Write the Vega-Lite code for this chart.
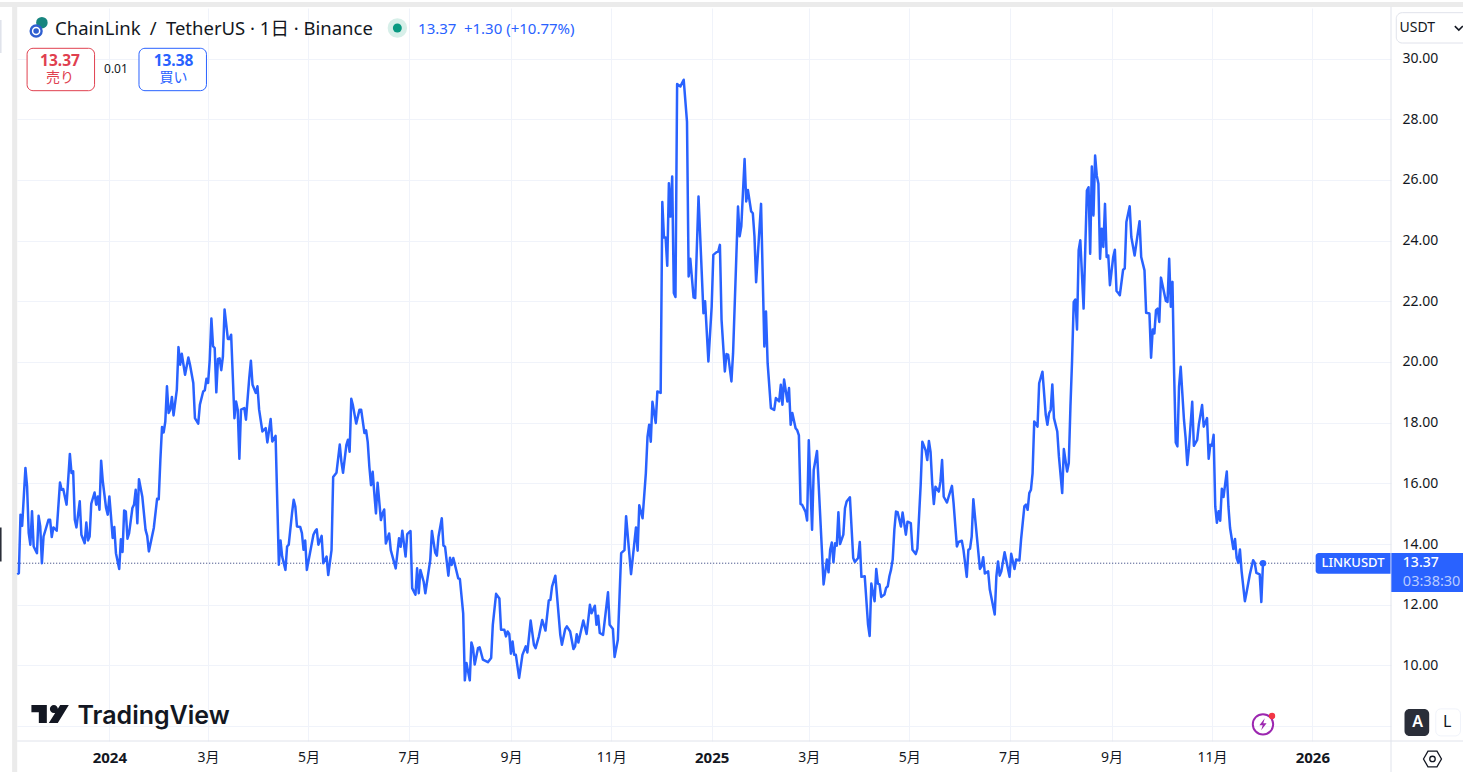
{
"$schema":"https://vega.github.io/schema/vega-lite/v6.json",
"width":1374,"height":733,
"autosize":{"type":"none"},
"padding":{"left":17,"top":8,"right":72,"bottom":31},
"background":"white",
"config":{"view":{"stroke":null},"font":"Noto Sans, Noto Sans CJK JP"},
"encoding":{
"x":{"field":"d","type":"temporal","title":null,
"scale":{"domain":[{"year":2023,"month":11,"date":5,"hours":21},{"year":2026,"month":2,"date":17,"hours":19}],"nice":false},
"axis":{"orient":"bottom","domain":false,"ticks":false,"grid":true,"gridColor":"#f0f3fa","tickCount":{"interval":"month","step":2},"labelExpr":"month(datum.value)==0 ? ''+year(datum.value) : (month(datum.value)+1)+'月'","labelFontSize":{"condition":{"test":"month(datum.value)==0","value":15},"value":14},"labelColor":"#131722","labelPadding":9,"labelOverlap":false,"labelFlush":false,"labelFontWeight":{"condition":{"test":"month(datum.value)==0","value":"bold"},"value":"normal"}}},
"y":{"field":"p","type":"quantitative","title":null,
"scale":{"domain":[7.512,31.664],"nice":false,"zero":false},
"axis":{"orient":"right","domain":false,"ticks":false,"grid":true,"gridColor":"#f0f3fa","values":[8,10,12,14,16,18,20,22,24,26,28,30],"format":".2f","labelExpr":"datum.value==8?'':datum.label","labelFontSize":14,"labelColor":"#131722","labelPadding":11}}
},
"layer":[
{"data":{"values":[{"d":"2023-10-20","d2":"2026-04-10","p":31.86,"p2":31.70},{"d":"2023-11-02T22:00","d2":"2023-11-06","p":31.86,"p2":6.4}]},"mark":{"type":"rect","color":"#ebebeb"},"encoding":{"x2":{"field":"d2"},"y2":{"field":"p2"}}},
{"data":{"values":[{"d":"2023-10-20","d2":"2023-10-27T12:00","p":31.27,"p2":30.18}]},"mark":{"type":"rect","color":"#e0e3eb"},"encoding":{"x2":{"field":"d2"},"y2":{"field":"p2"}}},
{"data":{"values":[{"d":"2023-10-20","d2":"2023-10-27T12:00","p":14.55,"p2":13.43}]},"mark":{"type":"rect","color":"#2a2e39"},"encoding":{"x2":{"field":"d2"},"y2":{"field":"p2"}}},
{"data":{"values":[{"d":"2023-11-06","d2":"2026-04-10","p":7.512,"p2":7.512},{"d":"2026-02-17T19:00","d2":"2026-02-17T19:00","p":31.7,"p2":6.4}]},"mark":{"type":"rule","color":"#e0e3eb","strokeWidth":1},"encoding":{"x2":{"field":"d2"},"y2":{"field":"p2"}}},
{"data":{"values":[{"d":"2023-11-06","d2":"2026-01-03","p":13.37}]},"mark":{"type":"rule","color":"#1f2f70","strokeWidth":1,"strokeDash":[1,2]},"encoding":{"x2":{"field":"d2"}}},
{"data":{"values":[
{"d":"2023-11-06","p":13.01},{"d":"2023-11-07","p":13.04},{"d":"2023-11-08","p":14.97},{"d":"2023-11-09","p":14.6},{"d":"2023-11-11","p":16.51},{"d":"2023-11-12","p":15.9},{"d":"2023-11-13","p":14.36},{"d":"2023-11-14","p":13.98},{"d":"2023-11-15","p":15.08},{"d":"2023-11-16","p":13.92},{"d":"2023-11-18","p":13.7},{"d":"2023-11-19","p":14.93},{"d":"2023-11-20","p":14.58},{"d":"2023-11-21","p":13.37},{"d":"2023-11-22","p":14.25},{"d":"2023-11-25","p":14.8},{"d":"2023-11-26","p":14.8},{"d":"2023-11-27","p":14.23},{"d":"2023-11-28","p":14.55},{"d":"2023-11-30","p":14.44},
{"d":"2023-12-02","p":16.03},{"d":"2023-12-03","p":15.79},{"d":"2023-12-04","p":15.81},{"d":"2023-12-06","p":15.3},{"d":"2023-12-08","p":16.97},{"d":"2023-12-09","p":16.34},{"d":"2023-12-10","p":16.4},{"d":"2023-12-11","p":14.8},{"d":"2023-12-12","p":14.55},{"d":"2023-12-14","p":15.41},{"d":"2023-12-15","p":14.31},{"d":"2023-12-17","p":14.03},{"d":"2023-12-18","p":14.71},{"d":"2023-12-19","p":14.12},{"d":"2023-12-20","p":14.25},{"d":"2023-12-21","p":15.33},{"d":"2023-12-23","p":15.7},{"d":"2023-12-24","p":15.3},{"d":"2023-12-25","p":15.57},{"d":"2023-12-26","p":15.13},{"d":"2023-12-27","p":16.75},{"d":"2023-12-28","p":16.07},{"d":"2023-12-30","p":15.19},{"d":"2023-12-31","p":14.97},
{"d":"2024-01-01","p":15.57},{"d":"2024-01-02","p":14.91},{"d":"2024-01-03","p":14.2},{"d":"2024-01-04","p":14.56},{"d":"2024-01-05","p":13.7},{"d":"2024-01-07","p":13.18},{"d":"2024-01-08","p":14.16},{"d":"2024-01-09","p":13.74},{"d":"2024-01-10","p":15.11},{"d":"2024-01-11","p":15.07},{"d":"2024-01-12","p":14.18},{"d":"2024-01-13","p":14.36},{"d":"2024-01-15","p":15.19},{"d":"2024-01-16","p":15.3},{"d":"2024-01-17","p":15.79},{"d":"2024-01-18","p":14.69},{"d":"2024-01-19","p":16.14},{"d":"2024-01-21","p":15.57},{"d":"2024-01-23","p":14.47},{"d":"2024-01-24","p":14.27},{"d":"2024-01-25","p":13.76},{"d":"2024-01-28","p":14.53},{"d":"2024-01-30","p":15.49},{"d":"2024-01-31","p":15.48},
{"d":"2024-02-01","p":16.78},{"d":"2024-02-02","p":17.86},{"d":"2024-02-03","p":17.68},{"d":"2024-02-04","p":18.04},{"d":"2024-02-05","p":19.2},{"d":"2024-02-06","p":18.32},{"d":"2024-02-07","p":18.43},{"d":"2024-02-08","p":18.85},{"d":"2024-02-09","p":18.24},{"d":"2024-02-11","p":19.09},{"d":"2024-02-12","p":20.49},{"d":"2024-02-13","p":19.91},{"d":"2024-02-14","p":20.27},{"d":"2024-02-16","p":19.58},{"d":"2024-02-18","p":20.15},{"d":"2024-02-19","p":19.91},{"d":"2024-02-21","p":19.31},{"d":"2024-02-22","p":18.15},{"d":"2024-02-24","p":17.97},{"d":"2024-02-25","p":18.59},{"d":"2024-02-27","p":19.03},{"d":"2024-02-28","p":19.07},{"d":"2024-02-29","p":19.45},
{"d":"2024-03-01","p":19.31},{"d":"2024-03-02","p":20.08},{"d":"2024-03-03","p":21.43},{"d":"2024-03-04","p":20.52},{"d":"2024-03-05","p":20.46},{"d":"2024-03-06","p":19.0},{"d":"2024-03-07","p":20.1},{"d":"2024-03-08","p":20.12},{"d":"2024-03-09","p":19.73},{"d":"2024-03-10","p":20.19},{"d":"2024-03-11","p":21.73},{"d":"2024-03-13","p":20.76},{"d":"2024-03-14","p":20.76},{"d":"2024-03-15","p":20.9},{"d":"2024-03-16","p":19.53},{"d":"2024-03-17","p":18.15},{"d":"2024-03-18","p":18.7},{"d":"2024-03-19","p":18.43},{"d":"2024-03-20","p":16.81},{"d":"2024-03-21","p":18.43},{"d":"2024-03-23","p":18.48},{"d":"2024-03-24","p":18.1},{"d":"2024-03-26","p":19.47},{"d":"2024-03-27","p":20.04},{"d":"2024-03-28","p":19.25},{"d":"2024-03-30","p":18.98},{"d":"2024-03-31","p":19.2},
{"d":"2024-04-01","p":18.43},{"d":"2024-04-03","p":17.71},{"d":"2024-04-05","p":17.82},{"d":"2024-04-06","p":17.35},{"d":"2024-04-08","p":18.12},{"d":"2024-04-09","p":17.38},{"d":"2024-04-11","p":17.57},{"d":"2024-04-12","p":15.46},{"d":"2024-04-13","p":13.32},{"d":"2024-04-14","p":14.12},{"d":"2024-04-15","p":13.59},{"d":"2024-04-17","p":13.15},{"d":"2024-04-18","p":13.92},{"d":"2024-04-19","p":13.98},{"d":"2024-04-21","p":15.02},{"d":"2024-04-22","p":15.46},{"d":"2024-04-23","p":15.24},{"d":"2024-04-24","p":14.58},{"d":"2024-04-26","p":14.56},{"d":"2024-04-27","p":14.36},{"d":"2024-04-28","p":13.81},{"d":"2024-04-29","p":14.12},{"d":"2024-04-30","p":13.15},
{"d":"2024-05-04","p":14.31},{"d":"2024-05-05","p":14.42},{"d":"2024-05-06","p":14.49},{"d":"2024-05-07","p":13.98},{"d":"2024-05-09","p":14.27},{"d":"2024-05-10","p":13.37},{"d":"2024-05-12","p":13.59},{"d":"2024-05-13","p":12.98},{"d":"2024-05-15","p":13.8},{"d":"2024-05-16","p":16.21},{"d":"2024-05-18","p":16.35},{"d":"2024-05-20","p":17.28},{"d":"2024-05-21","p":16.71},{"d":"2024-05-22","p":16.35},{"d":"2024-05-24","p":17.26},{"d":"2024-05-25","p":17.44},{"d":"2024-05-26","p":17.04},{"d":"2024-05-27","p":18.79},{"d":"2024-05-28","p":18.57},{"d":"2024-05-30","p":17.97},
{"d":"2024-06-01","p":18.43},{"d":"2024-06-02","p":18.43},{"d":"2024-06-04","p":17.66},{"d":"2024-06-05","p":17.75},{"d":"2024-06-06","p":17.36},{"d":"2024-06-07","p":16.54},{"d":"2024-06-08","p":15.94},{"d":"2024-06-09","p":16.38},{"d":"2024-06-10","p":15.67},{"d":"2024-06-11","p":15.01},{"d":"2024-06-12","p":16.02},{"d":"2024-06-14","p":14.79},{"d":"2024-06-15","p":15.01},{"d":"2024-06-16","p":15.14},{"d":"2024-06-17","p":14.02},{"d":"2024-06-19","p":14.35},{"d":"2024-06-20","p":13.8},{"d":"2024-06-23","p":13.2},{"d":"2024-06-25","p":14.19},{"d":"2024-06-26","p":13.91},{"d":"2024-06-27","p":14.44},{"d":"2024-06-29","p":13.59},{"d":"2024-06-30","p":14.33},
{"d":"2024-07-02","p":14.43},{"d":"2024-07-03","p":12.55},{"d":"2024-07-05","p":12.33},{"d":"2024-07-06","p":13.2},{"d":"2024-07-07","p":12.38},{"d":"2024-07-08","p":13.15},{"d":"2024-07-10","p":12.76},{"d":"2024-07-11","p":12.38},{"d":"2024-07-14","p":13.48},{"d":"2024-07-15","p":14.43},{"d":"2024-07-17","p":13.72},{"d":"2024-07-18","p":13.62},{"d":"2024-07-19","p":14.24},{"d":"2024-07-21","p":14.85},{"d":"2024-07-22","p":13.95},{"d":"2024-07-23","p":13.91},{"d":"2024-07-25","p":12.96},{"d":"2024-07-26","p":13.55},{"d":"2024-07-27","p":13.31},{"d":"2024-07-28","p":13.54},{"d":"2024-07-31","p":12.87},
{"d":"2024-08-01","p":12.85},{"d":"2024-08-03","p":11.72},{"d":"2024-08-04","p":9.51},{"d":"2024-08-05","p":10.08},{"d":"2024-08-07","p":9.51},{"d":"2024-08-08","p":10.76},{"d":"2024-08-09","p":10.57},{"d":"2024-08-10","p":10.03},{"d":"2024-08-12","p":10.57},{"d":"2024-08-13","p":10.6},{"d":"2024-08-15","p":10.19},{"d":"2024-08-18","p":10.11},{"d":"2024-08-20","p":10.25},{"d":"2024-08-21","p":11.34},{"d":"2024-08-23","p":12.36},{"d":"2024-08-25","p":12.21},{"d":"2024-08-26","p":11.18},{"d":"2024-08-28","p":11.18},{"d":"2024-08-29","p":10.96},{"d":"2024-08-30","p":11.12},{"d":"2024-08-31","p":11.04},
{"d":"2024-09-01","p":10.39},{"d":"2024-09-02","p":10.79},{"d":"2024-09-03","p":10.35},{"d":"2024-09-04","p":10.35},{"d":"2024-09-06","p":9.59},{"d":"2024-09-08","p":10.35},{"d":"2024-09-10","p":10.63},{"d":"2024-09-11","p":10.43},{"d":"2024-09-13","p":11.48},{"d":"2024-09-15","p":10.68},{"d":"2024-09-16","p":10.57},{"d":"2024-09-18","p":10.96},{"d":"2024-09-20","p":11.5},{"d":"2024-09-22","p":11.15},{"d":"2024-09-24","p":12.14},{"d":"2024-09-25","p":12.16},{"d":"2024-09-26","p":12.6},{"d":"2024-09-28","p":12.96},
{"d":"2024-10-01","p":11.01},{"d":"2024-10-02","p":10.68},{"d":"2024-10-04","p":11.2},{"d":"2024-10-05","p":11.29},{"d":"2024-10-07","p":11.12},{"d":"2024-10-09","p":10.54},{"d":"2024-10-10","p":10.63},{"d":"2024-10-11","p":11.03},{"d":"2024-10-12","p":10.76},{"d":"2024-10-15","p":11.48},{"d":"2024-10-17","p":11.04},{"d":"2024-10-18","p":11.5},{"d":"2024-10-19","p":12.0},{"d":"2024-10-20","p":11.72},{"d":"2024-10-22","p":11.97},{"d":"2024-10-23","p":11.34},{"d":"2024-10-24","p":11.64},{"d":"2024-10-25","p":11.07},{"d":"2024-10-27","p":11.01},{"d":"2024-10-29","p":11.94},{"d":"2024-10-30","p":12.41},{"d":"2024-10-31","p":11.34},
{"d":"2024-11-02","p":11.2},{"d":"2024-11-03","p":10.28},{"d":"2024-11-05","p":10.85},{"d":"2024-11-06","p":12.27},{"d":"2024-11-07","p":13.7},{"d":"2024-11-09","p":13.8},{"d":"2024-11-10","p":14.92},{"d":"2024-11-13","p":13.01},{"d":"2024-11-16","p":14.55},{"d":"2024-11-17","p":13.78},{"d":"2024-11-18","p":15.28},{"d":"2024-11-20","p":14.85},{"d":"2024-11-22","p":16.34},{"d":"2024-11-23","p":17.53},{"d":"2024-11-24","p":17.93},{"d":"2024-11-25","p":17.37},{"d":"2024-11-26","p":18.69},{"d":"2024-11-28","p":17.99},{"d":"2024-11-29","p":19.03},
{"d":"2024-12-01","p":18.98},{"d":"2024-12-02","p":25.27},{"d":"2024-12-03","p":24.1},{"d":"2024-12-04","p":24.1},{"d":"2024-12-05","p":23.17},{"d":"2024-12-06","p":25.89},{"d":"2024-12-07","p":24.79},{"d":"2024-12-08","p":26.11},{"d":"2024-12-09","p":22.27},{"d":"2024-12-10","p":22.14},{"d":"2024-12-11","p":29.16},{"d":"2024-12-13","p":29.08},{"d":"2024-12-15","p":29.3},{"d":"2024-12-17","p":27.92},{"d":"2024-12-18","p":22.82},{"d":"2024-12-19","p":23.4},{"d":"2024-12-21","p":22.13},{"d":"2024-12-22","p":22.11},{"d":"2024-12-24","p":25.45},{"d":"2024-12-27","p":21.61},{"d":"2024-12-28","p":22.0},{"d":"2024-12-30","p":20.02},
{"d":"2025-01-01","p":21.83},{"d":"2025-01-02","p":23.53},{"d":"2025-01-04","p":23.62},{"d":"2025-01-05","p":23.64},{"d":"2025-01-06","p":23.86},{"d":"2025-01-07","p":21.39},{"d":"2025-01-09","p":19.69},{"d":"2025-01-10","p":20.26},{"d":"2025-01-11","p":20.24},{"d":"2025-01-13","p":19.36},{"d":"2025-01-14","p":20.29},{"d":"2025-01-17","p":25.12},{"d":"2025-01-18","p":24.14},{"d":"2025-01-19","p":24.47},{"d":"2025-01-21","p":26.69},{"d":"2025-01-22","p":25.29},{"d":"2025-01-23","p":25.67},{"d":"2025-01-25","p":24.96},{"d":"2025-01-26","p":24.9},{"d":"2025-01-27","p":24.14},{"d":"2025-01-28","p":22.63},{"d":"2025-01-31","p":25.21},
{"d":"2025-02-02","p":20.51},{"d":"2025-02-03","p":21.66},{"d":"2025-02-04","p":19.96},{"d":"2025-02-06","p":18.48},{"d":"2025-02-08","p":18.42},{"d":"2025-02-09","p":18.81},{"d":"2025-02-11","p":18.7},{"d":"2025-02-12","p":19.25},{"d":"2025-02-13","p":18.59},{"d":"2025-02-14","p":19.42},{"d":"2025-02-16","p":18.7},{"d":"2025-02-17","p":19.14},{"d":"2025-02-18","p":17.93},{"d":"2025-02-19","p":18.32},{"d":"2025-02-21","p":17.82},{"d":"2025-02-22","p":17.75},{"d":"2025-02-23","p":17.58},{"d":"2025-02-24","p":15.32},{"d":"2025-02-25","p":15.29},{"d":"2025-02-27","p":15.07},{"d":"2025-02-28","p":14.78},
{"d":"2025-03-01","p":17.42},{"d":"2025-03-03","p":14.47},{"d":"2025-03-04","p":16.44},{"d":"2025-03-06","p":17.07},{"d":"2025-03-10","p":12.67},{"d":"2025-03-12","p":13.49},{"d":"2025-03-13","p":13.07},{"d":"2025-03-14","p":13.81},{"d":"2025-03-15","p":14.05},{"d":"2025-03-16","p":13.4},{"d":"2025-03-17","p":14.03},{"d":"2025-03-18","p":13.95},{"d":"2025-03-19","p":15.05},{"d":"2025-03-20","p":14.0},{"d":"2025-03-22","p":14.31},{"d":"2025-03-23","p":15.18},{"d":"2025-03-24","p":15.4},{"d":"2025-03-26","p":15.54},{"d":"2025-03-28","p":13.54},{"d":"2025-03-29","p":13.41},{"d":"2025-03-31","p":13.54},
{"d":"2025-04-01","p":14.07},{"d":"2025-04-02","p":12.92},{"d":"2025-04-04","p":12.94},{"d":"2025-04-06","p":11.36},{"d":"2025-04-07","p":10.97},{"d":"2025-04-08","p":12.7},{"d":"2025-04-10","p":12.12},{"d":"2025-04-11","p":13.18},{"d":"2025-04-12","p":12.7},{"d":"2025-04-13","p":12.67},{"d":"2025-04-14","p":12.26},{"d":"2025-04-16","p":12.34},{"d":"2025-04-17","p":12.56},{"d":"2025-04-18","p":12.61},{"d":"2025-04-19","p":12.94},{"d":"2025-04-20","p":13.16},{"d":"2025-04-21","p":13.49},{"d":"2025-04-22","p":14.47},{"d":"2025-04-23","p":15.07},{"d":"2025-04-24","p":15.05},{"d":"2025-04-26","p":14.58},{"d":"2025-04-27","p":15.04},{"d":"2025-04-29","p":14.31},{"d":"2025-04-30","p":14.74},
{"d":"2025-05-02","p":14.69},{"d":"2025-05-03","p":13.81},{"d":"2025-05-05","p":13.67},{"d":"2025-05-06","p":13.85},{"d":"2025-05-08","p":15.95},{"d":"2025-05-09","p":17.37},{"d":"2025-05-11","p":17.09},{"d":"2025-05-12","p":16.77},{"d":"2025-05-13","p":17.4},{"d":"2025-05-14","p":17.04},{"d":"2025-05-15","p":16.0},{"d":"2025-05-16","p":15.32},{"d":"2025-05-17","p":15.89},{"d":"2025-05-19","p":15.73},{"d":"2025-05-20","p":16.05},{"d":"2025-05-21","p":16.77},{"d":"2025-05-22","p":15.56},{"d":"2025-05-24","p":15.37},{"d":"2025-05-25","p":15.56},{"d":"2025-05-27","p":15.92},{"d":"2025-05-28","p":15.34},{"d":"2025-05-30","p":13.92},{"d":"2025-05-31","p":14.07},
{"d":"2025-06-02","p":14.11},{"d":"2025-06-03","p":13.81},{"d":"2025-06-05","p":12.92},{"d":"2025-06-06","p":13.81},{"d":"2025-06-07","p":13.85},{"d":"2025-06-08","p":14.25},{"d":"2025-06-09","p":15.48},{"d":"2025-06-13","p":13.18},{"d":"2025-06-14","p":13.27},{"d":"2025-06-15","p":13.57},{"d":"2025-06-16","p":13.03},{"d":"2025-06-18","p":13.1},{"d":"2025-06-19","p":12.5},{"d":"2025-06-22","p":11.68},{"d":"2025-06-23","p":12.94},{"d":"2025-06-24","p":13.43},{"d":"2025-06-25","p":12.96},{"d":"2025-06-26","p":13.1},{"d":"2025-06-28","p":13.73},
{"d":"2025-07-01","p":12.92},{"d":"2025-07-02","p":13.68},{"d":"2025-07-04","p":13.18},{"d":"2025-07-05","p":13.49},{"d":"2025-07-07","p":13.46},{"d":"2025-07-08","p":14.15},{"d":"2025-07-10","p":15.24},{"d":"2025-07-11","p":15.3},{"d":"2025-07-12","p":15.13},{"d":"2025-07-13","p":15.68},{"d":"2025-07-14","p":15.79},{"d":"2025-07-15","p":16.34},{"d":"2025-07-16","p":18.04},{"d":"2025-07-18","p":17.87},{"d":"2025-07-19","p":19.3},{"d":"2025-07-21","p":19.68},{"d":"2025-07-23","p":18.26},{"d":"2025-07-24","p":17.93},{"d":"2025-07-25","p":18.31},{"d":"2025-07-26","p":18.42},{"d":"2025-07-27","p":19.26},{"d":"2025-07-28","p":18.15},{"d":"2025-07-30","p":17.71},{"d":"2025-07-31","p":16.89},
{"d":"2025-08-02","p":15.68},{"d":"2025-08-03","p":17.13},{"d":"2025-08-05","p":16.39},{"d":"2025-08-06","p":16.67},{"d":"2025-08-07","p":18.53},{"d":"2025-08-08","p":20.06},{"d":"2025-08-09","p":21.98},{"d":"2025-08-10","p":22.06},{"d":"2025-08-11","p":21.07},{"d":"2025-08-12","p":23.68},{"d":"2025-08-13","p":24.01},{"d":"2025-08-15","p":21.76},{"d":"2025-08-17","p":25.65},{"d":"2025-08-18","p":25.76},{"d":"2025-08-19","p":23.57},{"d":"2025-08-20","p":26.44},{"d":"2025-08-21","p":24.83},{"d":"2025-08-22","p":26.8},{"d":"2025-08-23","p":26.14},{"d":"2025-08-24","p":25.87},{"d":"2025-08-25","p":23.4},{"d":"2025-08-26","p":24.39},{"d":"2025-08-27","p":23.79},{"d":"2025-08-28","p":25.21},{"d":"2025-08-29","p":23.46},{"d":"2025-08-30","p":23.51},{"d":"2025-08-31","p":22.53},
{"d":"2025-09-02","p":23.46},{"d":"2025-09-03","p":23.7},{"d":"2025-09-04","p":22.34},{"d":"2025-09-05","p":22.28},{"d":"2025-09-06","p":22.2},{"d":"2025-09-08","p":23.04},{"d":"2025-09-09","p":23.08},{"d":"2025-09-10","p":24.61},{"d":"2025-09-12","p":25.13},{"d":"2025-09-13","p":24.12},{"d":"2025-09-15","p":23.51},{"d":"2025-09-18","p":24.64},{"d":"2025-09-19","p":23.46},{"d":"2025-09-21","p":23.02},{"d":"2025-09-22","p":21.62},{"d":"2025-09-24","p":21.6},{"d":"2025-09-25","p":20.14},{"d":"2025-09-26","p":21.07},{"d":"2025-09-27","p":20.94},{"d":"2025-09-28","p":21.71},{"d":"2025-09-29","p":21.76},{"d":"2025-09-30","p":21.32},
{"d":"2025-10-01","p":22.78},{"d":"2025-10-04","p":22.01},{"d":"2025-10-05","p":21.98},{"d":"2025-10-06","p":23.4},{"d":"2025-10-07","p":21.82},{"d":"2025-10-08","p":22.64},{"d":"2025-10-09","p":19.63},{"d":"2025-10-10","p":17.35},{"d":"2025-10-11","p":17.22},{"d":"2025-10-12","p":19.19},{"d":"2025-10-13","p":19.84},{"d":"2025-10-15","p":18.09},{"d":"2025-10-16","p":17.49},{"d":"2025-10-17","p":16.61},{"d":"2025-10-18","p":17.16},{"d":"2025-10-20","p":18.69},{"d":"2025-10-21","p":17.24},{"d":"2025-10-23","p":17.43},{"d":"2025-10-24","p":17.93},{"d":"2025-10-26","p":18.58},{"d":"2025-10-27","p":17.87},{"d":"2025-10-29","p":18.15},{"d":"2025-10-30","p":16.81},{"d":"2025-10-31","p":17.27},
{"d":"2025-11-01","p":17.24},{"d":"2025-11-02","p":17.6},{"d":"2025-11-03","p":15.24},{"d":"2025-11-04","p":14.7},{"d":"2025-11-05","p":15.08},{"d":"2025-11-06","p":14.77},{"d":"2025-11-07","p":15.82},{"d":"2025-11-08","p":15.55},{"d":"2025-11-10","p":16.39},{"d":"2025-11-11","p":15.24},{"d":"2025-11-12","p":14.53},{"d":"2025-11-14","p":13.84},{"d":"2025-11-15","p":14.17},{"d":"2025-11-16","p":13.55},{"d":"2025-11-17","p":13.38},{"d":"2025-11-18","p":13.82},{"d":"2025-11-19","p":13.11},{"d":"2025-11-21","p":12.12},{"d":"2025-11-22","p":12.4},{"d":"2025-11-24","p":13.0},{"d":"2025-11-26","p":13.47},{"d":"2025-11-27","p":13.38},{"d":"2025-11-28","p":13.05},{"d":"2025-11-30","p":13.0},{"d":"2025-12-01","p":12.09},{"d":"2025-12-02","p":13.37}
]},"mark":{"type":"line","color":"#2962ff","strokeWidth":2.5,"strokeJoin":"round"}},
{"data":{"values":[{"d":"2025-12-02","p":13.37}]},"mark":{"type":"point","filled":true,"opacity":1,"color":"#2962ff","size":42}},
{"data":{"values":[{"d":"2026-01-03","d2":"2026-02-17T12:00","p":13.71,"p2":13.02}]},"mark":{"type":"rect","color":"#2962ff","cornerRadiusTopLeft":3,"cornerRadiusBottomLeft":3},"encoding":{"x2":{"field":"d2"},"y2":{"field":"p2"}}},
{"data":{"values":[{"d":"2026-02-18","d2":"2026-04-10","p":13.71,"p2":12.42}]},"mark":{"type":"rect","color":"#2962ff"},"encoding":{"x2":{"field":"d2"},"y2":{"field":"p2"}}},
{"data":{"values":[{"d":"2026-01-25T16:00","p":13.38,"t":"LINKUSDT"}]},"mark":{"type":"text","color":"white","fontSize":13,"fontWeight":500,"align":"center","baseline":"middle"},"encoding":{"text":{"field":"t","type":"nominal"}}},
{"data":{"values":[{"d":"2026-02-25","p":13.38,"t":"13.37"}]},"mark":{"type":"text","color":"white","fontSize":14,"fontWeight":500,"align":"left","baseline":"middle"},"encoding":{"text":{"field":"t","type":"nominal"}}},
{"data":{"values":[{"d":"2026-02-25","p":12.75,"t":"03:38:30"}]},"mark":{"type":"text","color":"#b9cbff","fontSize":14.5,"align":"left","baseline":"middle"},"encoding":{"text":{"field":"t","type":"nominal"}}},
{"data":{"values":[{"d":"2023-11-21","p":31.18}]},"mark":{"type":"point","filled":true,"opacity":1,"color":"#17857f","size":133}},
{"data":{"values":[{"d":"2023-11-17T12:00","p":30.906}]},"mark":{"type":"point","filled":true,"opacity":1,"color":"#2f5fd0","size":177}},
{"data":{"values":[{"d":"2023-11-17T12:00","p":30.906}]},"mark":{"type":"point","filled":false,"opacity":1,"color":"white","strokeWidth":1.5,"size":50}},
{"data":{"values":[{"d":"2023-11-29","p":30.97,"t":"ChainLink\u2002/\u2002TetherUS · 1日 · Binance"}]},"mark":{"type":"text","color":"#131722","fontSize":18.5,"align":"left","baseline":"middle"},"encoding":{"text":{"field":"t","type":"nominal"}}},
{"data":{"values":[{"d":"2024-06-24","p":31.005}]},"mark":{"type":"point","filled":true,"opacity":1,"color":"#d7efe9","size":380}},
{"data":{"values":[{"d":"2024-06-24","p":31.005}]},"mark":{"type":"point","filled":true,"opacity":1,"color":"#089981","size":80}},
{"data":{"values":[{"d":"2024-07-06T14:00","p":30.98,"t":"13.37\u2002+1.30 (+10.77%)"}]},"mark":{"type":"text","color":"#2962ff","fontSize":15,"align":"left","baseline":"middle"},"encoding":{"text":{"field":"t","type":"nominal"}}},
{"data":{"values":[{"d":"2023-11-12","d2":"2023-12-23","p":30.336,"p2":28.94}]},"mark":{"type":"rect","fill":"white","stroke":"#e0404f","strokeWidth":1,"cornerRadius":6},"encoding":{"x2":{"field":"d2"},"y2":{"field":"p2"}}},
{"data":{"values":[{"d":"2024-01-19","d2":"2024-02-29","p":30.336,"p2":28.94}]},"mark":{"type":"rect","fill":"white","stroke":"#2962ff","strokeWidth":1,"cornerRadius":6},"encoding":{"x2":{"field":"d2"},"y2":{"field":"p2"}}},
{"data":{"values":[{"d":"2023-12-02","p":29.92,"t":"13.37"}]},"mark":{"type":"text","color":"#e0404f","fontSize":15.5,"fontWeight":"bold","align":"center","baseline":"middle"},"encoding":{"text":{"field":"t","type":"nominal"}}},
{"data":{"values":[{"d":"2023-12-02","p":29.36,"t":"売り"}]},"mark":{"type":"text","color":"#e0404f","fontSize":14,"align":"center","baseline":"middle"},"encoding":{"text":{"field":"t","type":"nominal"}}},
{"data":{"values":[{"d":"2024-02-09","p":29.92,"t":"13.38"}]},"mark":{"type":"text","color":"#2962ff","fontSize":15.5,"fontWeight":"bold","align":"center","baseline":"middle"},"encoding":{"text":{"field":"t","type":"nominal"}}},
{"data":{"values":[{"d":"2024-02-09","p":29.36,"t":"買い"}]},"mark":{"type":"text","color":"#2962ff","fontSize":14,"align":"center","baseline":"middle"},"encoding":{"text":{"field":"t","type":"nominal"}}},
{"data":{"values":[{"d":"2024-01-05","p":29.65,"t":"0.01"}]},"mark":{"type":"text","color":"#131722","fontSize":12,"align":"center","baseline":"middle"},"encoding":{"text":{"field":"t","type":"nominal"}}},
{"data":{"values":[{"d":"2026-02-21","d2":"2026-04-07","p":31.51,"p2":30.51}]},"mark":{"type":"rect","fill":"white","stroke":"#e0e3eb","strokeWidth":1,"cornerRadius":6},"encoding":{"x2":{"field":"d2"},"y2":{"field":"p2"}}},
{"data":{"values":[{"d":"2026-02-23","p":31.0,"t":"USDT"}]},"mark":{"type":"text","color":"#131722","fontSize":14,"align":"left","baseline":"middle"},"encoding":{"text":{"field":"t","type":"nominal"}}},
{"data":{"values":[{"d":"2026-03-31","p":31.0}]},"mark":{"type":"point","filled":false,"opacity":1,"color":"#131722","strokeWidth":1.5,"size":64,"shape":"M-1,-0.5 L0,0.5 L1,-0.5"}},
{"data":{"values":[{"d":"2026-02-26","d2":"2026-03-13","p":8.57,"p2":7.68}]},"mark":{"type":"rect","color":"#2a2e39","cornerRadius":5},"encoding":{"x2":{"field":"d2"},"y2":{"field":"p2"}}},
{"data":{"values":[{"d":"2026-03-17","d2":"2026-04-01","p":8.57,"p2":7.68}]},"mark":{"type":"rect","fill":"white","stroke":"#f0f3fa","strokeWidth":1,"cornerRadius":5},"encoding":{"x2":{"field":"d2"},"y2":{"field":"p2"}}},
{"data":{"values":[{"d":"2026-03-06","p":8.13,"t":"A"}]},"mark":{"type":"text","color":"white","fontSize":16,"fontWeight":600,"align":"center","baseline":"middle"},"encoding":{"text":{"field":"t","type":"nominal"}}},
{"data":{"values":[{"d":"2026-03-24","p":8.13,"t":"L"}]},"mark":{"type":"text","color":"#131722","fontSize":16,"align":"center","baseline":"middle"},"encoding":{"text":{"field":"t","type":"nominal"}}},
{"data":{"values":[{"d":"2026-03-15","p":6.92}]},"mark":{"type":"point","filled":false,"opacity":1,"color":"#131722","strokeWidth":1.3,"size":324,"shape":"M-1,0 L-0.5,-0.87 L0.5,-0.87 L1,0 L0.5,0.87 L-0.5,0.87 Z"}},
{"data":{"values":[{"d":"2026-03-15","p":6.92}]},"mark":{"type":"point","filled":false,"opacity":1,"color":"#131722","strokeWidth":1.3,"size":30}},
{"data":{"values":[{"d":"2025-12-02","p":8.06}]},"mark":{"type":"point","filled":false,"opacity":1,"color":"#9c27b0","strokeWidth":2,"size":415}},
{"data":{"values":[{"d":"2025-12-02","p":8.06}]},"mark":{"type":"point","filled":true,"opacity":1,"color":"#9c27b0","size":144,"shape":"M0.3,-1 L-0.6,0.15 L-0.05,0.15 L-0.3,1 L0.6,-0.2 L0.05,-0.2 Z"}},
{"data":{"values":[{"d":"2025-12-07T12:00","p":8.336}]},"mark":{"type":"point","filled":true,"opacity":1,"color":"#f23645","size":40}},
{"data":{"values":[{"d":"2023-11-26","p":8.4}]},"mark":{"type":"point","filled":true,"opacity":1,"color":"#131722","size":1399,"shape":"M-1,-0.48 L-0.176,-0.48 L-0.176,0.48 L-0.604,0.48 L-0.604,-0.09 L-1,-0.09 Z M0.414,-0.27 A0.214,0.214 0 1 1 -0.014,-0.27 A0.214,0.214 0 1 1 0.414,-0.27 Z M0.54,-0.48 L1,-0.48 L0.41,0.48 L-0.07,0.48 Z"}},
{"data":{"values":[{"d":"2023-12-12T14:00","p":8.35,"t":"TradingView"}]},"mark":{"type":"text","color":"#131722","font":"Inter","fontSize":25,"fontWeight":600,"align":"left","baseline":"middle"},"encoding":{"text":{"field":"t","type":"nominal"}}}
]
}
